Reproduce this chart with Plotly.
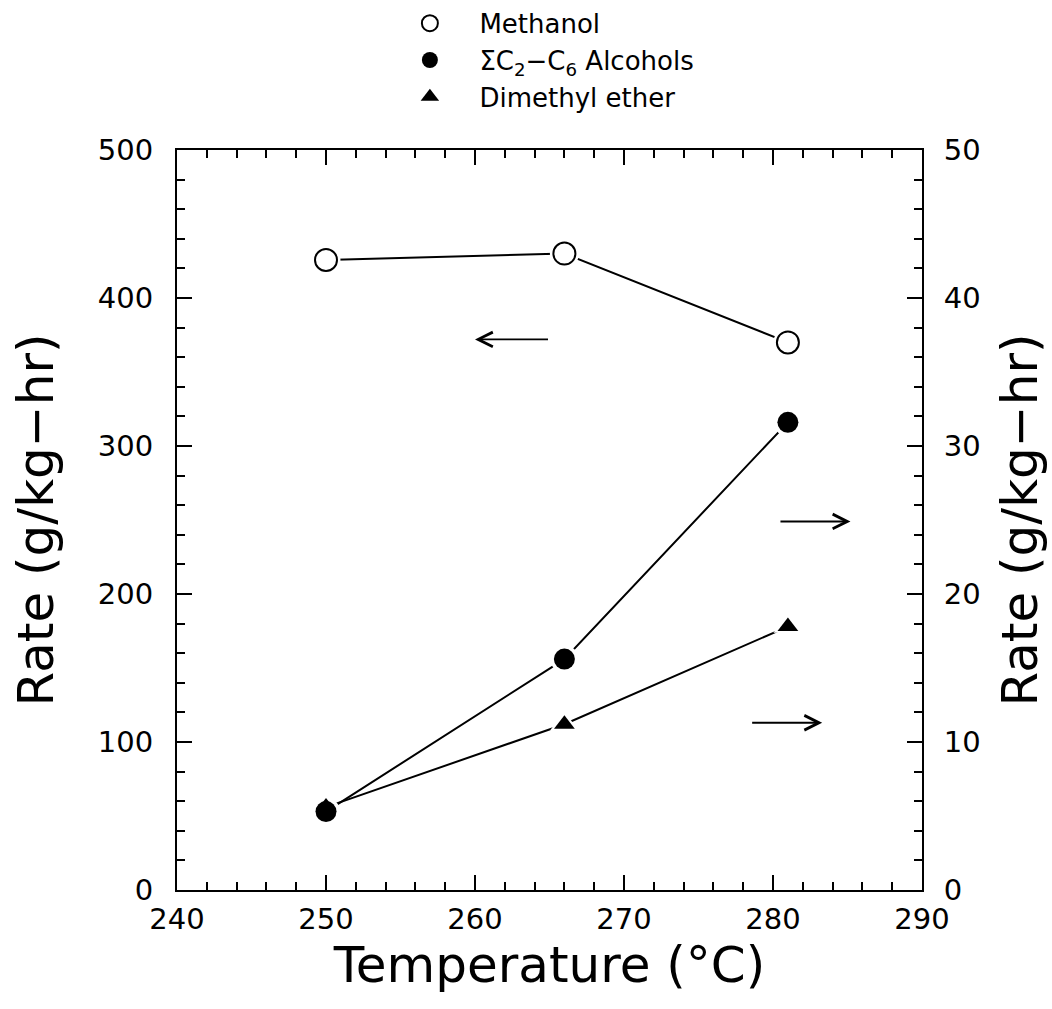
import plotly.graph_objects as go

# Reaction temperature (°C)
temperature = [250, 266, 281]

# Production rates (g/kg-hr)
methanol = [425.7, 430.0, 370.0]          # left axis
c2_c6_alcohols = [5.3, 15.6, 31.6]        # right axis
dimethyl_ether = [5.6, 11.2, 17.8]        # right axis

x_ticks = [240, 250, 260, 270, 280, 290]
y_left_ticks = [0, 100, 200, 300, 400, 500]
y_right_ticks = [0, 10, 20, 30, 40, 50]

FONT = "DejaVu Sans"
BLACK = "black"

series = [
    dict(name="Methanol", y=methanol, axis="y", symbol="circle-open", size=22),
    dict(name="ΣC<sub>2</sub>−C<sub>6</sub> Alcohols", y=c2_c6_alcohols, axis="y2",
         symbol="circle", size=21),
    dict(name="Dimethyl ether", y=dimethyl_ether, axis="y2", symbol="triangle-up", size=18),
]

fig = go.Figure()

# connecting lines
for s in series:
    fig.add_trace(go.Scatter(x=temperature, y=s["y"], yaxis=s["axis"], mode="lines",
                             line=dict(color=BLACK, width=2), showlegend=False,
                             hoverinfo="skip"))

# white halos leave a small gap between the lines and the symbols
for s in series:
    fig.add_trace(go.Scatter(x=temperature, y=s["y"], yaxis=s["axis"], mode="markers",
                             marker=dict(symbol=s["symbol"].replace("-open", ""),
                                         size=s["size"] + 7, color="white",
                                         line=dict(width=0)),
                             showlegend=False, hoverinfo="skip"))

# symbols
for s in series:
    open_sym = s["symbol"].endswith("-open")
    fig.add_trace(go.Scatter(x=temperature, y=s["y"], yaxis=s["axis"], mode="markers",
                             marker=dict(symbol=s["symbol"].replace("-open", ""),
                                         size=s["size"],
                                         color="white" if open_sym else BLACK,
                                         line=dict(color=BLACK, width=2 if open_sym else 0)),
                             showlegend=False, name=s["name"]))

# legend entries (symbol only)
for i, s in enumerate(series):
    open_sym = s["symbol"].endswith("-open")
    fig.add_trace(go.Scatter(x=[None], y=[None], yaxis=s["axis"], mode="markers",
                             name=s["name"], legendgroup=f"g{i}",
                             marker=dict(symbol=s["symbol"].replace("-open", ""),
                                         size=19 if s["symbol"] != "triangle-up" else 16,
                                         color="white" if open_sym else BLACK,
                                         line=dict(color=BLACK, width=2 if open_sym else 0))))

axis_common = dict(
    showline=True, linecolor=BLACK, linewidth=2,
    ticks="inside", ticklen=15, tickwidth=1.5, tickcolor=BLACK,
    showgrid=False, zeroline=False,
    tickfont=dict(family=FONT, size=29, color=BLACK),
)

TITLE_FONT = dict(family=FONT, size=50, color=BLACK)

fig.update_layout(
    width=1052, height=1009,
    margin=dict(l=177, r=130, t=150, b=119, autoexpand=False),
    paper_bgcolor="white", plot_bgcolor="white",
    font=dict(family=FONT, color=BLACK),
    xaxis=dict(
        range=[240, 290], tickvals=x_ticks, ticktext=[str(v) for v in x_ticks],
        mirror="ticks",
        minor=dict(dtick=2, ticks="inside", ticklen=8, tickwidth=1.5, tickcolor=BLACK),
        title=dict(text="Temperature (°C)", font=TITLE_FONT, standoff=8),
        ticklabelstandoff=2,
        **axis_common,
    ),
    yaxis=dict(
        range=[0, 500], tickvals=y_left_ticks, ticktext=[str(v) for v in y_left_ticks],
        minor=dict(dtick=20, ticks="inside", ticklen=8, tickwidth=1.5, tickcolor=BLACK),
        title=dict(text="Rate (g/kg−hr)", font=TITLE_FONT, standoff=28),
        ticklabelstandoff=16,
        **axis_common,
    ),
    yaxis2=dict(
        range=[0, 50], tickvals=y_right_ticks, ticktext=[str(v) for v in y_right_ticks],
        overlaying="y", side="right",
        minor=dict(dtick=2, ticks="inside", ticklen=8, tickwidth=1.5, tickcolor=BLACK),
        title=dict(text="Rate (g/kg−hr)", font=TITLE_FONT, standoff=22),
        ticklabelstandoff=14,
        **axis_common,
    ),
    legend=dict(
        x=0.273, xanchor="left", y=1.203, yanchor="top",
        font=dict(family=FONT, size=26, color=BLACK),
        bgcolor="rgba(0,0,0,0)", tracegroupgap=0,
        itemwidth=89,
    ),
    showlegend=True,
)

# arrows pointing to the axis each curve is read from
arrow = dict(text="", showarrow=True, arrowhead=5, arrowsize=1.6, arrowwidth=1.8,
             arrowcolor=BLACK)
fig.add_annotation(x=260, y=372, ax=265, ay=372, xref="x", yref="y",
                   axref="x", ayref="y", **arrow)
fig.add_annotation(x=285.2, y=24.9, ax=280.4, ay=24.9, xref="x", yref="y2",
                   axref="x", ayref="y2", **arrow)
fig.add_annotation(x=283.3, y=11.3, ax=278.5, ay=11.3, xref="x", yref="y2",
                   axref="x", ayref="y2", **arrow)

fig.write_html("out.html")
